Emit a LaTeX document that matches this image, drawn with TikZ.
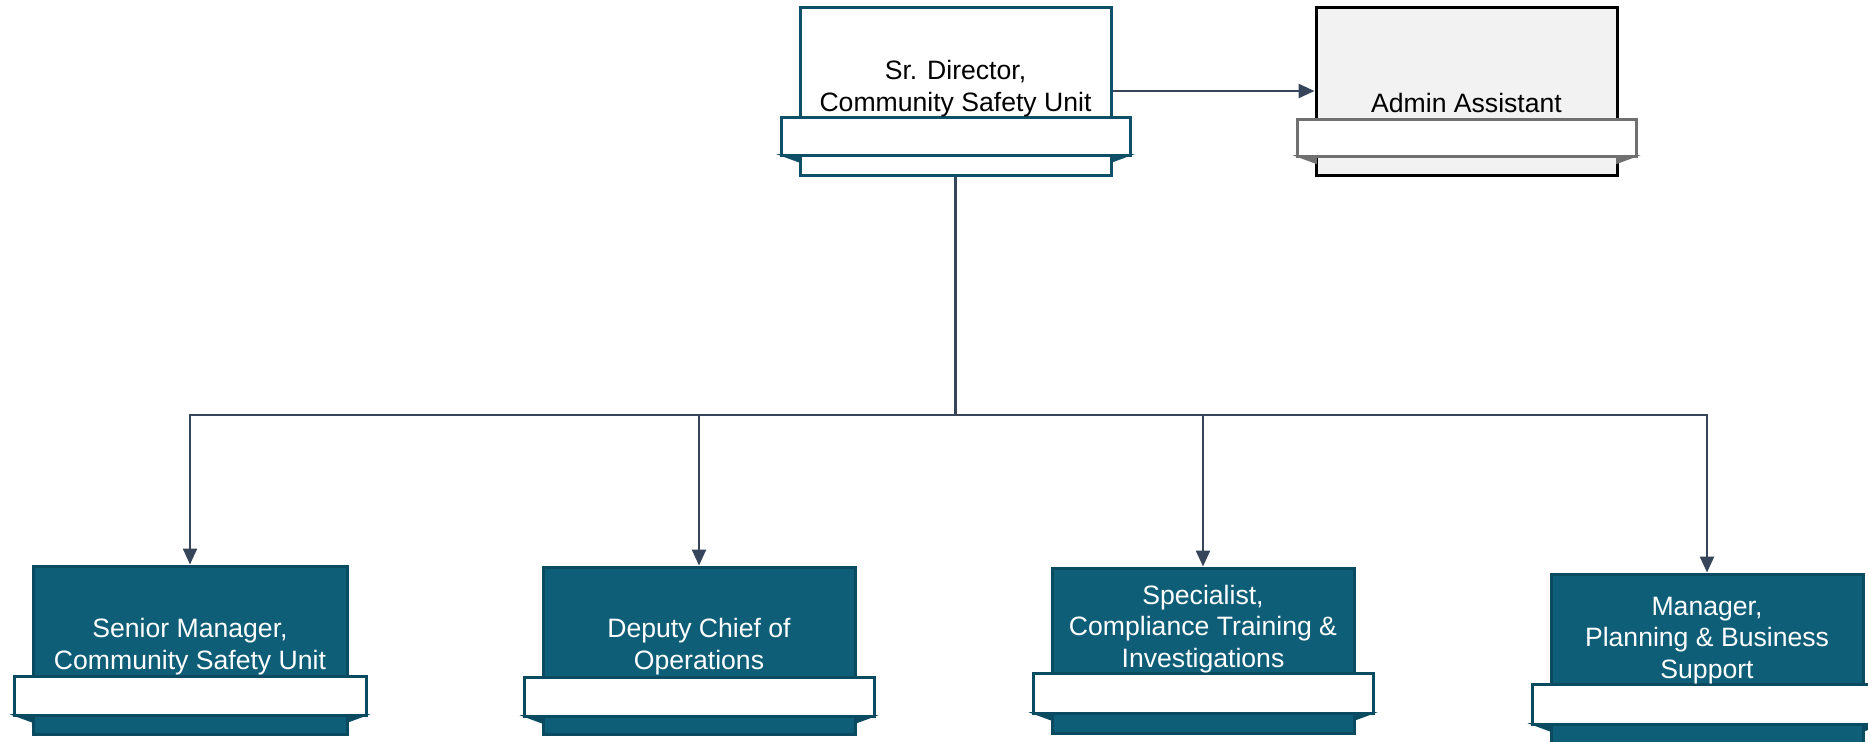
\documentclass[tikz,border=0pt]{standalone}
\usepackage{fontspec}
\setmainfont{Liberation Sans}
\usetikzlibrary{arrows.meta,calc}
\definecolor{teal1}{HTML}{0F5E78}
\definecolor{tealb}{HTML}{0B4B61}
\definecolor{topb}{HTML}{0F4F68}
\definecolor{conn}{HTML}{36455A}
\definecolor{adminfill}{HTML}{F2F2F2}
\definecolor{adminband}{HTML}{707070}
\tikzset{
  box/.style={rectangle,inner sep=0pt,line width=1.5pt},
  topbox/.style={box,draw=topb,fill=white},
  adminbox/.style={box,draw=black,fill=adminfill},
  teambox/.style={box,draw=tealb,fill=teal1},
  band/.style={line width=1.5pt,fill=white},
  fold/.style={line width=0.8pt,line join=miter},
  lbl/.style={inner sep=0pt,align=center,font=\fontsize{13.3}{15.7}\selectfont},
  conn/.style={draw=conn,line width=1.2pt},
  arr/.style={conn,-{Triangle[width=7pt,length=8pt]}},
}
% #1 box left, #2 box right, #3 band top, #4 band bottom, #5 colour
\newcommand\ribbon[5]{%
  \filldraw[fold,draw=#5,fill=#5] (#1-19,#4) -- (#1,#4) -- (#1,#4+7) -- cycle;
  \filldraw[fold,draw=#5,fill=#5] (#2+19,#4) -- (#2,#4) -- (#2,#4+7) -- cycle;
  \draw[band,draw=#5] (#1-19,#3) rectangle (#2+19,#4);
}
\begin{document}
\begin{tikzpicture}[x=0.5pt,y=-0.5pt]
\clip (0,0) rectangle (1868,741);
\fill[white] (0,0) rectangle (1868,741);

% top row (sizes in pt = px/2)
\node[topbox,minimum width=155.5pt,minimum height=84pt] (dir) at (955.5,91) {};
\node[adminbox,minimum width=150.5pt,minimum height=84pt] (adm) at (1466.5,91) {};
\ribbon{800}{1111}{117}{155}{topb}
\ribbon{1316}{1617}{119}{156}{adminband}
\node[lbl,anchor=base] (tdir) at (955.5,111) {Sr. Director,\\Community Safety Unit};
\node[lbl,anchor=base] (tadm) at (1466.5,112) {Admin Assistant};

% bottom row
\node[teambox,minimum width=157pt,minimum height=84pt] (c1) at (190,650) {};
\node[teambox,minimum width=156pt,minimum height=83.5pt] (c2) at (699,650.5) {};
\node[teambox,minimum width=151pt,minimum height=82.5pt] (c3) at (1203,650.5) {};
\node[teambox,minimum width=156pt,minimum height=90pt] (c4) at (1707,664) {};
\ribbon{33}{347}{676}{715}{tealb}
\ribbon{543}{855}{677}{716}{tealb}
\ribbon{1052}{1354}{673}{713}{tealb}
\ribbon{1551}{1863}{684}{724}{tealb}
\node[lbl,anchor=base,text=white] (t1) at (190,669) {Senior Manager,\\Community Safety Unit};
\node[lbl,anchor=base,text=white] (t2) at (699,669) {Deputy Chief of\\Operations};
\node[lbl,anchor=base,text=white] (t3) at (1203,667) {Specialist,\\Compliance Training \&\\Investigations};
\node[lbl,anchor=base,text=white] (t4) at (1707,678) {Manager,\\Planning \& Business\\Support};

% connectors
\coordinate (bus) at (955.5,415);
\draw[conn] (dir.south) -- (bus);
\draw[arr] (bus) -| (c1.north);
\draw[arr] (bus) -| (c2.north);
\draw[arr] (bus) -| (c3.north);
\draw[arr] (bus) -| (c4.north);
\draw[arr] (dir.east) -- (adm.west);
\end{tikzpicture}
\end{document}
